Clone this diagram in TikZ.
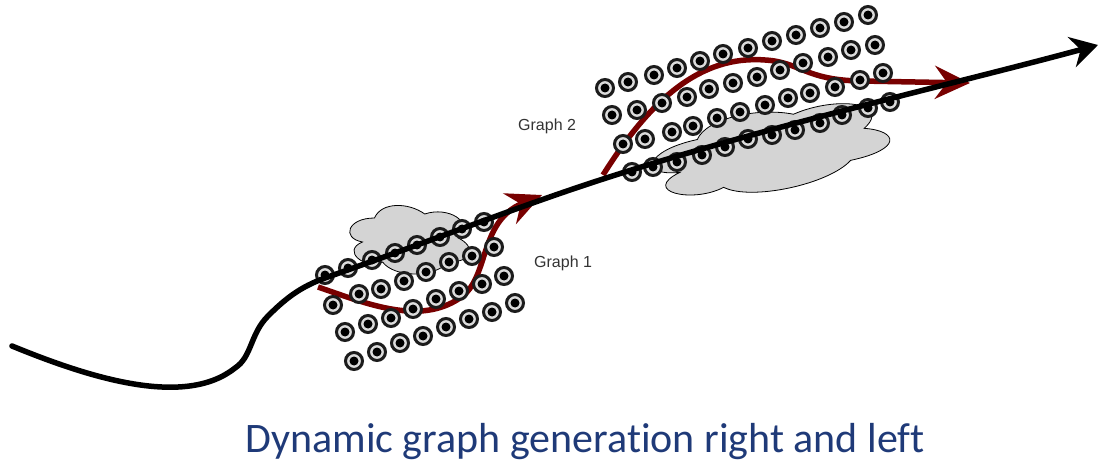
\documentclass[tikz,border=0pt]{standalone}
\usepackage{fontspec}
\usetikzlibrary{arrows.meta}
\newfontfamily\capfont[Ligatures={NoCommon}]{Carlito}
\newfontfamily\lblfont{Liberation Sans}
\definecolor{pathred}{HTML}{780000}
\definecolor{capblue}{HTML}{1F3A78}
\definecolor{cloudgray}{HTML}{D4D4D4}
\definecolor{ringdark}{HTML}{1C1C1C}
\definecolor{ringlight}{HTML}{DCDCDC}
\tikzset{
  gdot/.style={circle, minimum size=17pt, inner sep=0pt, line width=3pt,
    draw=ringdark, fill=ringlight,
    path picture={\fill[black] (path picture bounding box.center) circle (4.5pt);}},
  cloudshape/.style={draw=black, line width=0.8pt, fill=cloudgray},
  redpath/.style={draw=pathred, line width=5.5pt,
    -{Stealth[length=35pt,width=33pt,inset=12pt]}},
  mainline/.style={draw=black, line width=5.5pt, line cap=round,
    -{Stealth[length=27pt,width=31pt,inset=9pt]}},
  graphlabel/.style={font=\lblfont\fontsize{16}{19}\selectfont, text=black!80, anchor=west, inner sep=0pt},
  caption/.style={font=\capfont\fontsize{42}{50}\selectfont, text=capblue, anchor=base, inner sep=0pt}
}
% unit cloud outline, centred on the origin
\newcommand\cloudoutline{(-.25,-.25) .. controls (-.45,-.25) and (-.5,0) .. (-.34,.05)
  .. controls (-.5,.16) and (-.32,.4) .. (-.19,.3)
  .. controls (-.1,.5) and (.2,.5) .. (.3,.3)
  .. controls (.5,.3) and (.5,.1) .. (.375,0)
  .. controls (.5,-.2) and (.3,-.4) .. (.125,-.3)
  .. controls (0,-.45) and (-.2,-.45) .. (-.25,-.25) -- cycle}
\begin{document}
\begin{tikzpicture}[x=1pt, y=-1pt]
\useasboundingbox (0,0) rectangle (1100,465);

% clouds behind both graphs
\begin{scope}[shift={(408,238)}, x=134pt, y=-80pt]
  \path[cloudshape] \cloudoutline;
\end{scope}
\begin{scope}[shift={(767,149)}, rotate=12, x=265pt, y=-95pt]
  \path[cloudshape] \cloudoutline;
\end{scope}

% red traversal paths
\coordinate (r1s) at (318,287);
\coordinate (r1e) at (542,195);
\coordinate (r2s) at (603,175);
\coordinate (r2e) at (970,83);
\draw[redpath] (r1s) .. controls (370,305) and (420,325) .. (460,298)
  .. controls (490,278) and (478,222) .. (r1e);
\draw[redpath] (r2s) .. controls (650,100) and (700,55) .. (765,60)
  .. controls (800,62) and (805,80) .. (860,81) -- (r2e);

% graph 1 vertices
\foreach \x/\y [count=\i] in {
  325/275,348/268,372/260,395/253,417/245,440/237,462/229,484/222,
  333/305,359/294,381/289,404/281,426/272,449/262,472/256,494/247,
  345/332,368/324,391/318,413/309,436/299,459/291,482/284,504/276,
  354/361,377/352,400/343,423/336,446/327,469/319,492/312,515/303}
  \node[gdot] (ga\i) at (\x,\y) {};

% graph 2 vertices
\foreach \x/\y [count=\i] in {
  605/88,628/82,654/75,677/68,700/61,723/54,748/48,772/41,796/35,820/28,844/22,868/15,
  612/115,637/110,662/103,687/97,709/89,733/83,757/77,780/70,803/63,828/57,851/50,875/45,
  623/144,645/139,672/132,693/126,717/118,740/112,765/105,788/98,810/93,835/87,860/80,883/73,
  632/172,653/167,677/162,702/155,725/147,748/139,772/135,795/130,820/123,842/115,868/108,890/102}
  \node[gdot] (gb\i) at (\x,\y) {};

% main trajectory
\coordinate (ts) at (12,346);
\coordinate (te) at (1098,45);
\draw[mainline] (ts) .. controls (90,378) and (185,408) .. (235,368)
  .. controls (252,357) and (250,334) .. (268,316)
  .. controls (285,299) and (300,287) .. (325,278)
  .. controls (450,234) and (520,206) .. (600,180)
  .. controls (760,128) and (950,85) .. (te);

% labels
\node[graphlabel] (l1) at (534,263) {Graph 1};
\node[graphlabel] (l2) at (518,126) {Graph 2};
\node[caption] (cap) at (585,452) {Dynamic graph generation right and left};
\end{tikzpicture}
\end{document}
